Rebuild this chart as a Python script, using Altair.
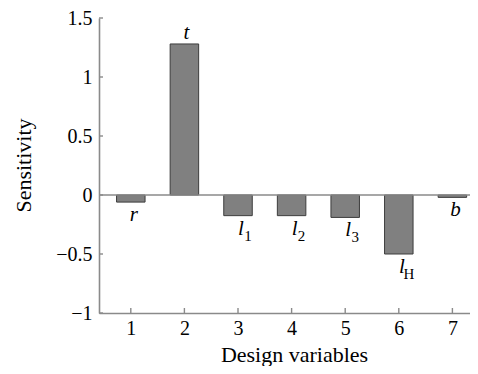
import altair as alt
import pandas as pd

variables = [1, 2, 3, 4, 5, 6, 7]
sensitivity = [-0.06, 1.28, -0.175, -0.175, -0.19, -0.5, -0.02]
label_base = ["r", "t", "l", "l", "l", "l", "b"]
label_sub = ["", "", "1", "2", "3", "H", ""]
y_ticks = [-1, -0.5, 0, 0.5, 1, 1.5]
x_ticks = [1, 2, 3, 4, 5, 6, 7]

df = pd.DataFrame({"var": variables, "value": sensitivity,
                   "base": label_base, "sub": label_sub})
ytick_df = pd.DataFrame({"t": y_ticks})
xtick_df = pd.DataFrame({"t": x_ticks})

W, H = 371, 295
FONT = "Liberation Serif"
AX = "#8a8a8a"

xscale = alt.Scale(domain=[0.5, 7.235], nice=False, zero=False)
yscale = alt.Scale(domain=[-1, 1.5], nice=False)

x_enc = alt.X("var:Q", scale=xscale, axis=alt.Axis(
    values=x_ticks, tickSize=0, labelPadding=5, grid=False, format="d",
    title="Design variables", titleX=195, titleY=48,
    titleBaseline="alphabetic", titleAnchor="middle", titleAlign="center"))
y_enc = alt.Y("value:Q", scale=yscale, axis=alt.Axis(
    values=y_ticks, tickSize=0, labelPadding=7, grid=False, format="~g",
    title="Sensitivity", titleX=-76, titleY=147, titleAngle=-90,
    titleBaseline="middle", titleAlign="center"))

base = alt.Chart(df)

bars = base.mark_bar(size=28.5, fill="#808080", stroke="#3c3c3c",
                     strokeWidth=1).encode(x=x_enc, y=y_enc)

zero = alt.Chart(pd.DataFrame({"z": [0]})).mark_rule(
    color=AX, strokeWidth=1.6).encode(y=alt.Y("z:Q", scale=yscale))

yt = alt.Chart(ytick_df).mark_rule(color=AX, strokeWidth=1.4).encode(
    y=alt.Y("t:Q", scale=yscale), x=alt.value(0), x2=alt.value(4))
xt = alt.Chart(xtick_df).mark_rule(color=AX, strokeWidth=1.4).encode(
    x=alt.X("t:Q", scale=xscale), y=alt.value(H), y2=alt.value(H - 5))

lab_above = base.transform_filter("datum.value >= 0").mark_text(
    font=FONT, fontSize=21, fontStyle="italic", baseline="alphabetic",
    dy=-5, dx=2, color="black").encode(
    x=alt.X("var:Q", scale=xscale), y=alt.Y("value:Q", scale=yscale),
    text="base:N")
lab_below = base.transform_filter("datum.value < 0").mark_text(
    font=FONT, fontSize=21, fontStyle="italic", baseline="alphabetic",
    dy=19, dx=3, color="black").encode(
    x=alt.X("var:Q", scale=xscale), y=alt.Y("value:Q", scale=yscale),
    text="base:N")
lab_sub = base.transform_filter("datum.sub != ''").mark_text(
    font=FONT, fontSize=15, baseline="alphabetic",
    dy=25, dx=10, color="black").encode(
    x=alt.X("var:Q", scale=xscale), y=alt.Y("value:Q", scale=yscale),
    text="sub:N")

chart = alt.layer(bars, zero, yt, xt, lab_above, lab_below, lab_sub).properties(
    width=W, height=H, background="white",
    autosize=alt.AutoSizeParams(type="none"),
    padding={"left": 91, "top": 10, "right": 0, "bottom": 53},
).configure_view(stroke=None).configure_axis(
    domainColor=AX, domainWidth=1.6, labelFont=FONT, labelFontSize=20,
    labelColor="black", titleFont=FONT, titleFontSize=22,
    titleColor="black", titleFontWeight="normal"
)

chart.save("out.html", embed_options={"renderer": "svg", "actions": False})
